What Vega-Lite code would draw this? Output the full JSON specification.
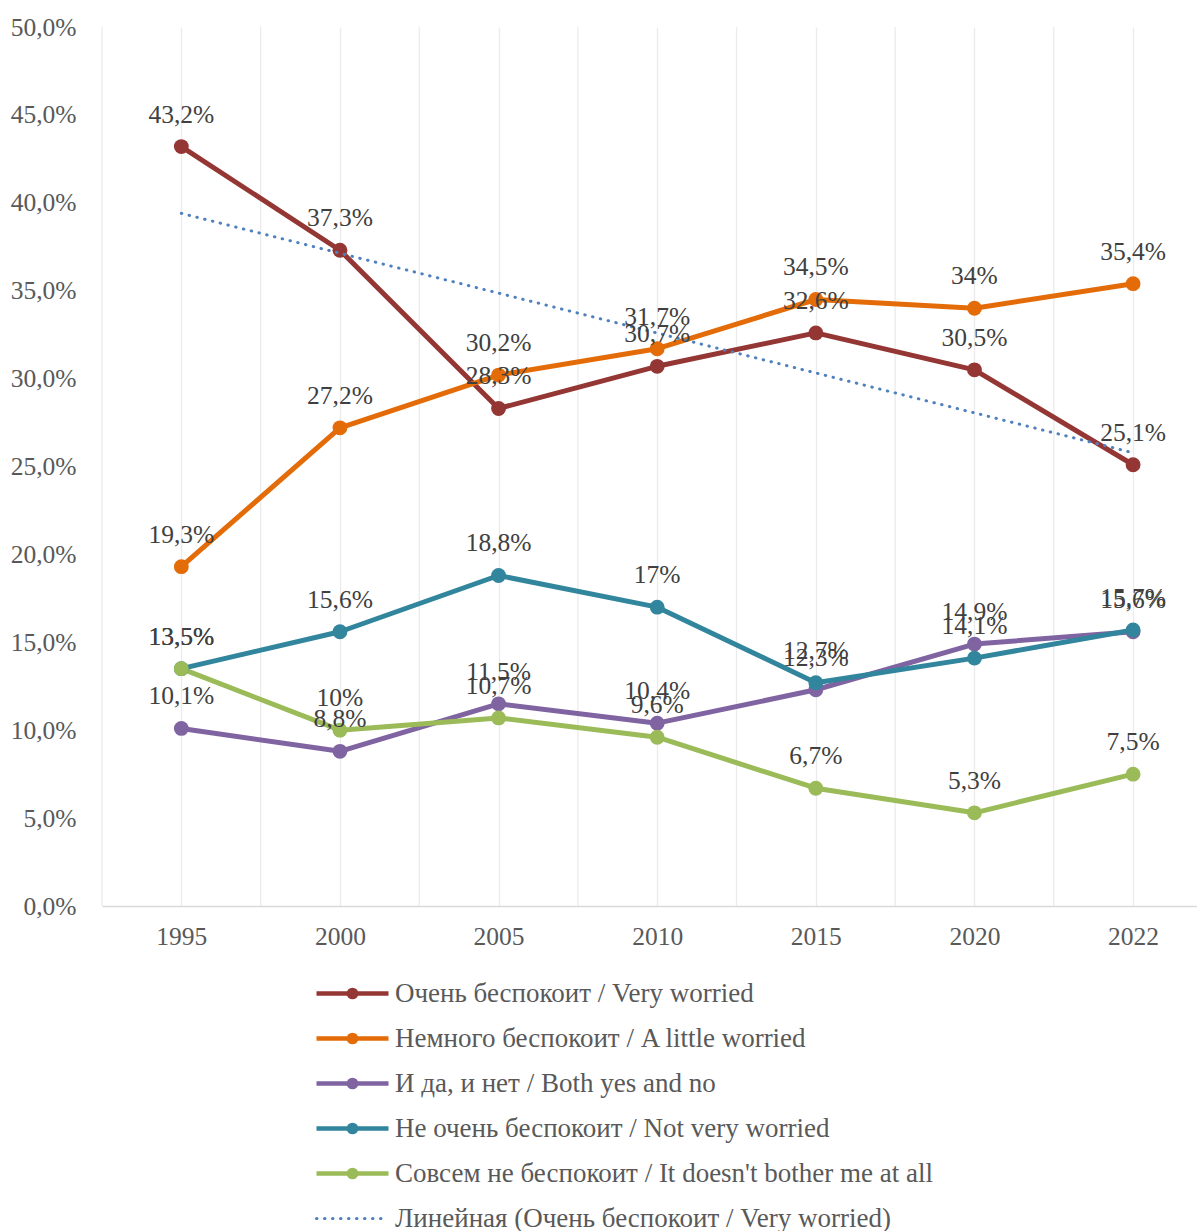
{
  "$schema": "https://vega.github.io/schema/vega-lite/v6.json",
  "width": 1095,
  "height": 879,
  "autosize": {"type": "none"},
  "padding": {"left": 102, "top": 27, "right": 0, "bottom": 325},
  "background": "white",
  "config": {
    "locale": {"number": {"decimal": ",", "thousands": "\u00a0", "grouping": [3], "currency": ["", " ₽"]}},
    "view": {"stroke": null},
    "axis": {"labelFont": "Liberation Serif", "labelFontSize": 25.5, "labelColor": "#595959", "ticks": false, "tickSize": 0, "title": null}
  },
  "data": {
    "values": [
      {"year": "1995", "series": "Очень беспокоит / Very worried", "value": 0.432},
      {"year": "2000", "series": "Очень беспокоит / Very worried", "value": 0.373},
      {"year": "2005", "series": "Очень беспокоит / Very worried", "value": 0.283},
      {"year": "2010", "series": "Очень беспокоит / Very worried", "value": 0.307},
      {"year": "2015", "series": "Очень беспокоит / Very worried", "value": 0.326},
      {"year": "2020", "series": "Очень беспокоит / Very worried", "value": 0.305},
      {"year": "2022", "series": "Очень беспокоит / Very worried", "value": 0.251},
      {"year": "1995", "series": "Немного беспокоит / A little worried", "value": 0.193},
      {"year": "2000", "series": "Немного беспокоит / A little worried", "value": 0.272},
      {"year": "2005", "series": "Немного беспокоит / A little worried", "value": 0.302},
      {"year": "2010", "series": "Немного беспокоит / A little worried", "value": 0.317},
      {"year": "2015", "series": "Немного беспокоит / A little worried", "value": 0.345},
      {"year": "2020", "series": "Немного беспокоит / A little worried", "value": 0.34},
      {"year": "2022", "series": "Немного беспокоит / A little worried", "value": 0.354},
      {"year": "1995", "series": "И да, и нет / Both yes and no", "value": 0.101},
      {"year": "2000", "series": "И да, и нет / Both yes and no", "value": 0.088},
      {"year": "2005", "series": "И да, и нет / Both yes and no", "value": 0.115},
      {"year": "2010", "series": "И да, и нет / Both yes and no", "value": 0.104},
      {"year": "2015", "series": "И да, и нет / Both yes and no", "value": 0.123},
      {"year": "2020", "series": "И да, и нет / Both yes and no", "value": 0.149},
      {"year": "2022", "series": "И да, и нет / Both yes and no", "value": 0.156},
      {"year": "1995", "series": "Не очень беспокоит / Not very worried", "value": 0.135},
      {"year": "2000", "series": "Не очень беспокоит / Not very worried", "value": 0.156},
      {"year": "2005", "series": "Не очень беспокоит / Not very worried", "value": 0.188},
      {"year": "2010", "series": "Не очень беспокоит / Not very worried", "value": 0.17},
      {"year": "2015", "series": "Не очень беспокоит / Not very worried", "value": 0.127},
      {"year": "2020", "series": "Не очень беспокоит / Not very worried", "value": 0.141},
      {"year": "2022", "series": "Не очень беспокоит / Not very worried", "value": 0.157},
      {"year": "1995", "series": "Совсем не беспокоит / It doesn't bother me at all", "value": 0.135},
      {"year": "2000", "series": "Совсем не беспокоит / It doesn't bother me at all", "value": 0.10},
      {"year": "2005", "series": "Совсем не беспокоит / It doesn't bother me at all", "value": 0.107},
      {"year": "2010", "series": "Совсем не беспокоит / It doesn't bother me at all", "value": 0.096},
      {"year": "2015", "series": "Совсем не беспокоит / It doesn't bother me at all", "value": 0.067},
      {"year": "2020", "series": "Совсем не беспокоит / It doesn't bother me at all", "value": 0.053},
      {"year": "2022", "series": "Совсем не беспокоит / It doesn't bother me at all", "value": 0.075},
      {"year": "1995", "series": "Линейная (Очень беспокоит / Very worried)", "value": 0.394},
      {"year": "2000", "series": "Линейная (Очень беспокоит / Very worried)", "value": 0.3713},
      {"year": "2005", "series": "Линейная (Очень беспокоит / Very worried)", "value": 0.3486},
      {"year": "2010", "series": "Линейная (Очень беспокоит / Very worried)", "value": 0.3259},
      {"year": "2015", "series": "Линейная (Очень беспокоит / Very worried)", "value": 0.3032},
      {"year": "2020", "series": "Линейная (Очень беспокоит / Very worried)", "value": 0.2805},
      {"year": "2022", "series": "Линейная (Очень беспокоит / Very worried)", "value": 0.2578}
    ]
  },
  "encoding": {
    "x": {
      "field": "year", "type": "ordinal",
      "scale": {"type": "point", "padding": 0.4515, "align": 0.5538},
      "axis": {"labelAngle": 0, "grid": true, "gridColor": "#ebebeb", "gridWidth": 1.3, "domainColor": "#d9d9d9", "domainWidth": 1.5, "labelPadding": 18}
    },
    "y": {
      "field": "value", "type": "quantitative",
      "scale": {"domain": [0, 0.5], "nice": false},
      "axis": {"format": ".1%", "values": [0, 0.05, 0.1, 0.15, 0.2, 0.25, 0.3, 0.35, 0.4, 0.45, 0.5], "grid": false, "domain": false, "labelPadding": 26}
    }
  },
  "layer": [
    {
      "transform": [{"filter": "datum.series === 'Очень беспокоит / Very worried'"}],
      "mark": {"type": "rule", "xOffset": -79.3, "color": "#ebebeb", "strokeWidth": 1.3},
      "encoding": {"y": null}
    },
    {
      "transform": [{"filter": "datum.series !== 'Линейная (Очень беспокоит / Very worried)'"}],
      "mark": {"type": "line", "strokeWidth": 5, "strokeJoin": "round", "strokeCap": "round"},
      "encoding": {
        "color": {
          "field": "series", "type": "nominal",
          "scale": {
            "domain": ["Очень беспокоит / Very worried", "Немного беспокоит / A little worried", "И да, и нет / Both yes and no", "Не очень беспокоит / Not very worried", "Совсем не беспокоит / It doesn't bother me at all", "Линейная (Очень беспокоит / Very worried)"],
            "range": ["#943634", "#E36C09", "#8064A2", "#31859C", "#9BBB59", "#4F81BD"]
          },
          "legend": {
            "orient": "none", "legendX": 237, "legendY": 953, "direction": "vertical", "title": null,
            "symbolSize": 5184, "symbolStrokeWidth": 4.5,
            "labelFont": "Liberation Serif", "labelFontSize": 27, "labelColor": "#595959", "labelOffset": 29, "labelLimit": 0,
            "rowPadding": 17,
            "encode": {
              "symbols": {
                "update": {
                  "shape": {"signal": "datum.value === 'Линейная (Очень беспокоит / Very worried)' ? 'M-1,0H1' : 'M-1,0H1M0.1,0A0.1,0.1,0,1,1,-0.1,0A0.1,0.1,0,1,1,0.1,0Z'"},
                  "fill": {"scale": "color", "field": "value"},
                  "stroke": {"scale": "color", "field": "value"},
                  "strokeWidth": {"signal": "datum.value === 'Линейная (Очень беспокоит / Very worried)' ? 3 : 4.5"},
                  "strokeDash": {"signal": "datum.value === 'Линейная (Очень беспокоит / Very worried)' ? [0.5, 7.5] : []"},
                  "strokeCap": {"signal": "datum.value === 'Линейная (Очень беспокоит / Very worried)' ? 'round' : 'butt'"},
                  "opacity": {"value": 1}
                }
              }
            }
          }
        }
      }
    },
    {
      "transform": [{"filter": "datum.series !== 'Линейная (Очень беспокоит / Very worried)'"}],
      "mark": {"type": "point", "filled": true, "size": 220, "opacity": 1},
      "encoding": {"color": {"field": "series", "type": "nominal"}}
    },
    {
      "transform": [{"filter": "datum.series === 'Линейная (Очень беспокоит / Very worried)'"}],
      "mark": {"type": "line", "strokeWidth": 3, "strokeDash": [0.5, 7.5], "strokeCap": "round"},
      "encoding": {"color": {"field": "series", "type": "nominal"}}
    },
    {
      "transform": [{"filter": "datum.series !== 'Линейная (Очень беспокоит / Very worried)'"}],
      "mark": {"type": "text", "font": "Liberation Serif", "fontSize": 25.5, "color": "#404040", "baseline": "middle", "dy": -32},
      "encoding": {"text": {"field": "value", "type": "quantitative", "format": ".1~%"}}
    }
  ]
}
